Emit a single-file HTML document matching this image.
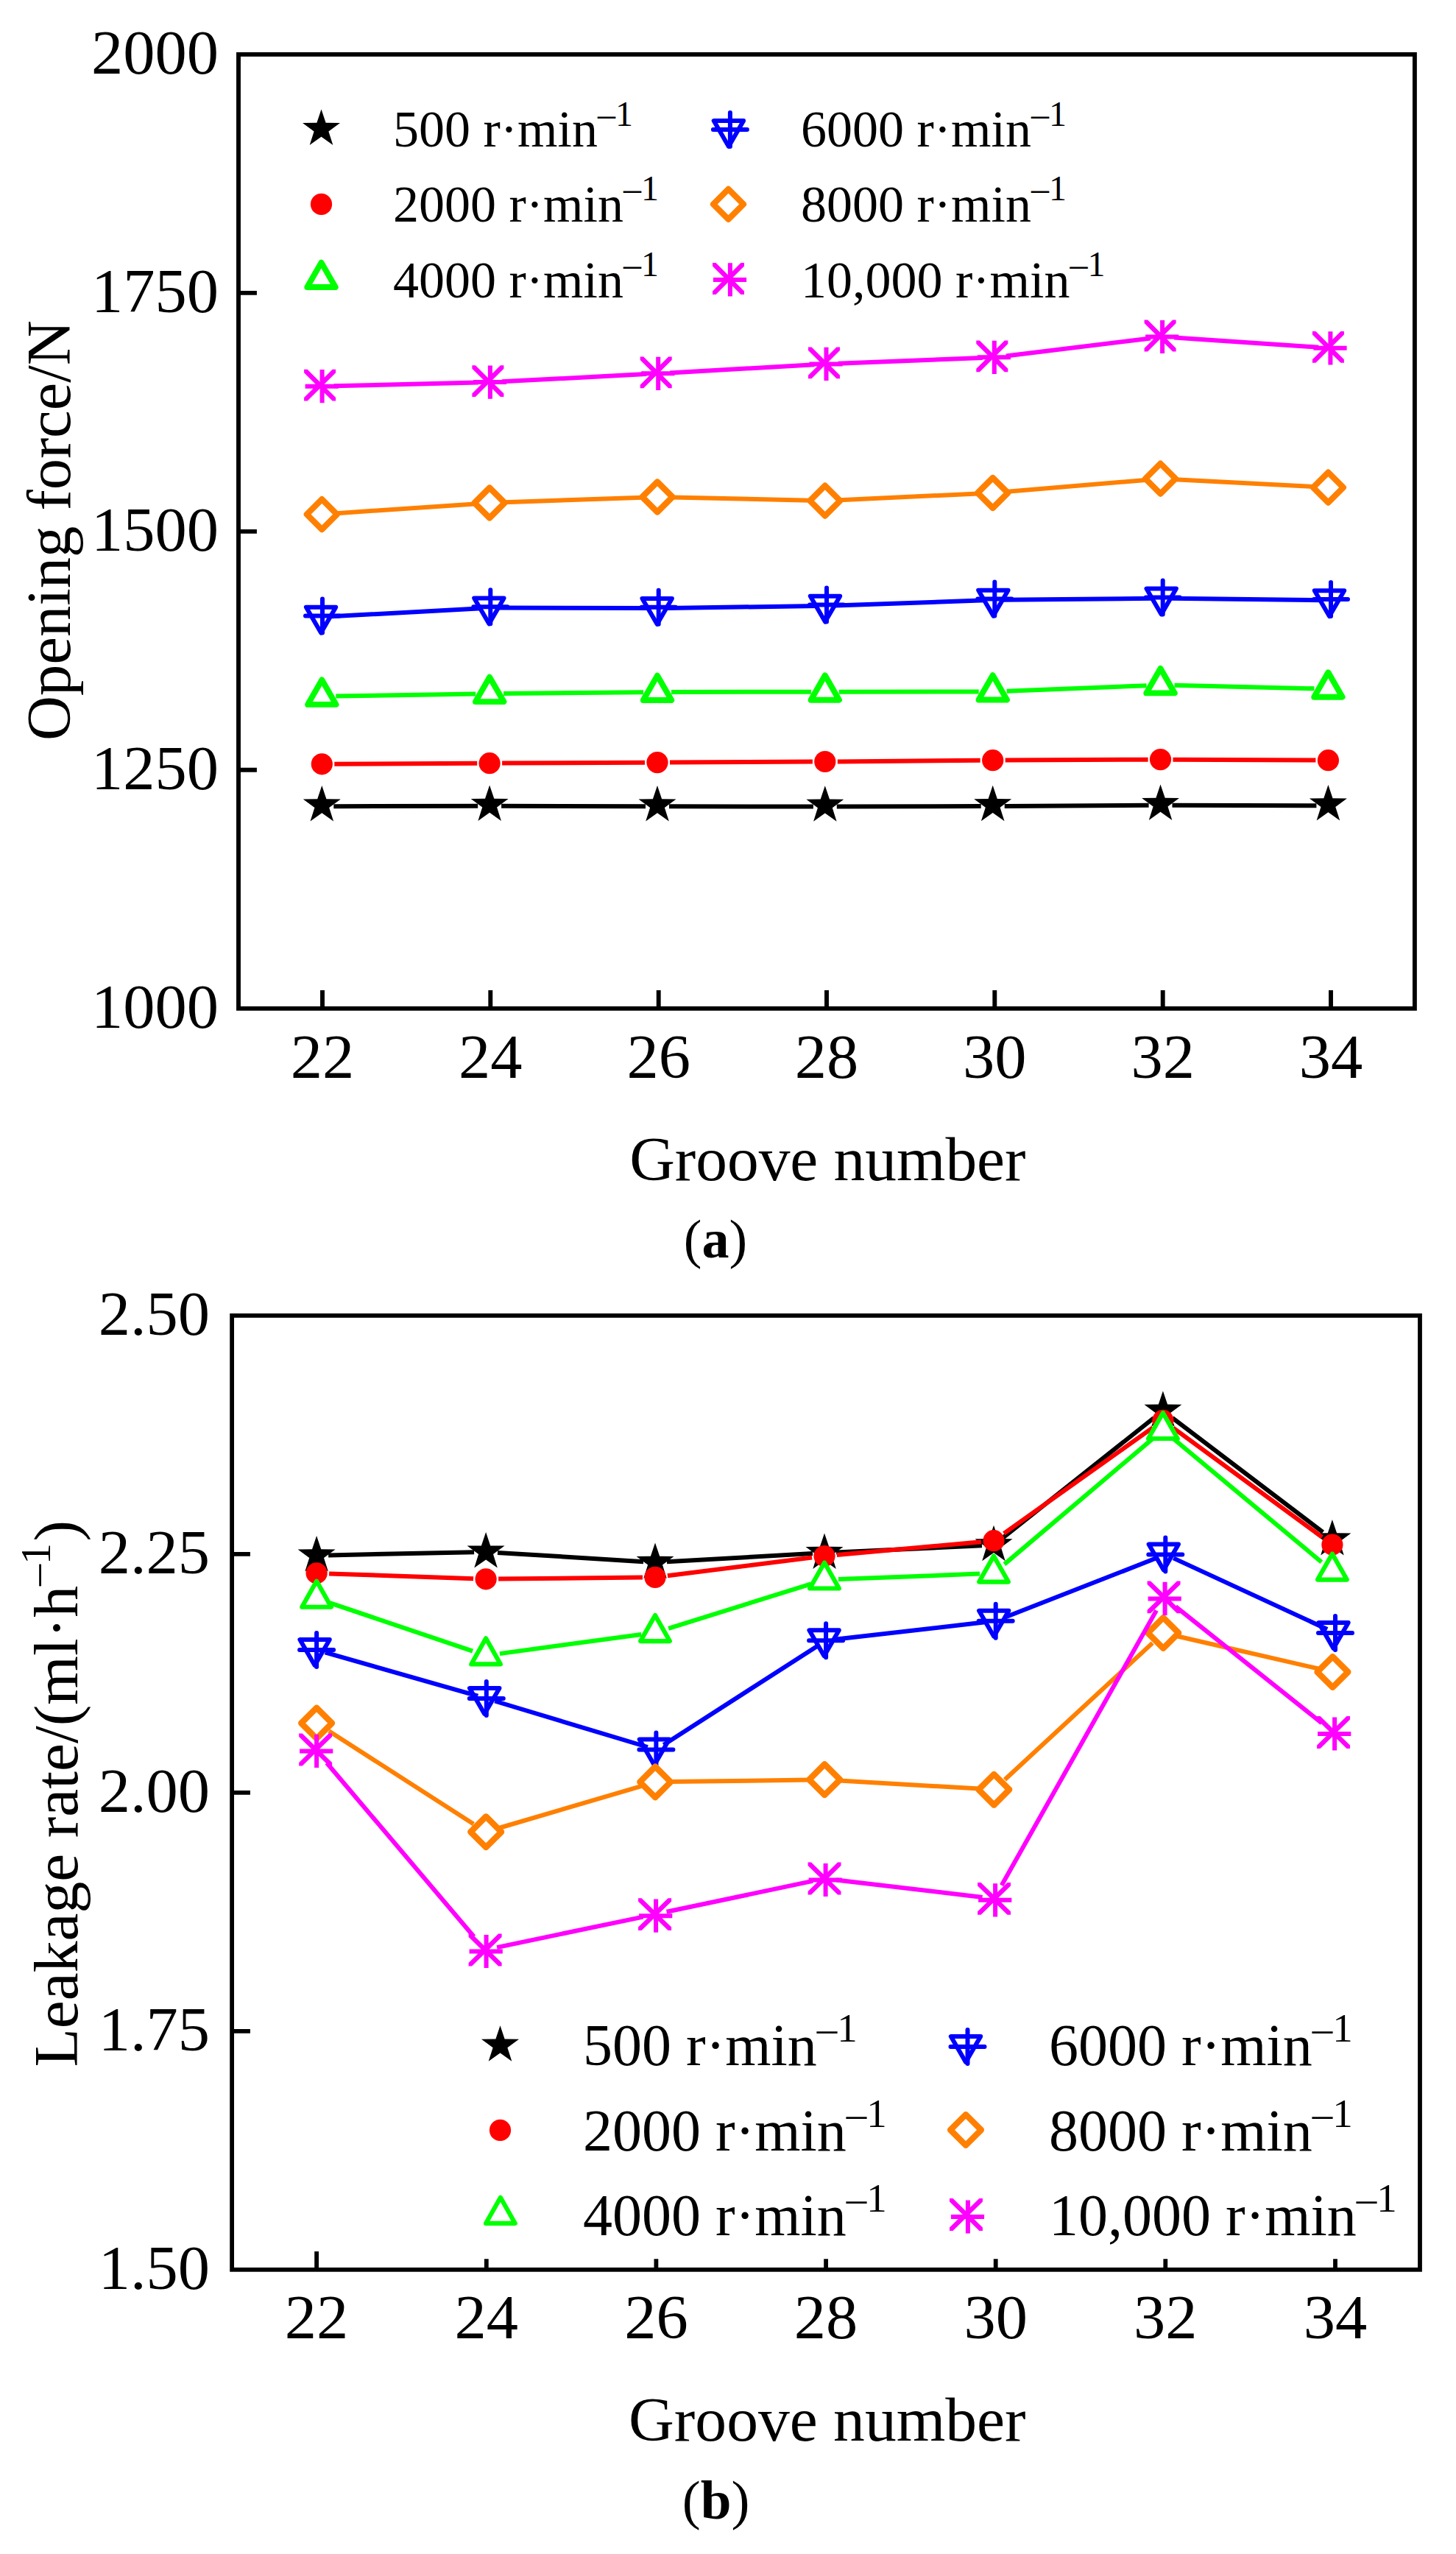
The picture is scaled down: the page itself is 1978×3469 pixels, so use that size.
<!DOCTYPE html>
<html lang="en"><head><meta charset="utf-8"><title>Opening force and leakage rate versus groove number</title>
<style>html,body{margin:0;padding:0;background:#fff}svg{display:block}text{font-family:'Liberation Serif', 'Times New Roman', serif;fill:#000}</style>
</head><body>
<svg width="1978" height="3469" viewBox="0 0 1978 3469">
<rect width="1978" height="3469" fill="#fff"/>
<g>
<path d="M324 397.9h24.9M324 721.9h24.9M324 1045.8h24.9M438 1369.8v-24.9M666.3 1369.8v-24.9M894.7 1369.8v-24.9M1123 1369.8v-24.9M1351.3 1369.8v-24.9M1579.7 1369.8v-24.9M1808 1369.8v-24.9" stroke="#000" stroke-width="5.9" fill="none"/>
<path d="M453.3 1095.2L649.2 1094.8M681.1 1094.8L877 1095.3M909 1095.3L1104.9 1095.5M1136.8 1095.5L1332.7 1095.1M1364.7 1095L1560.6 1093.8M1592.5 1093.7L1788.4 1094.2" fill="none" stroke="#000000" stroke-width="6"/>
<polygon points="437.3,1066.9 443.4,1085.2 462.8,1085.4 447.2,1096.9 453.1,1115.4 437.3,1104.2 421.5,1115.4 427.4,1096.9 411.8,1085.4 431.2,1085.2" fill="#000000"/>
<polygon points="665.1,1066.5 671.3,1084.8 690.6,1085 675.1,1096.5 680.9,1115 665.1,1103.8 649.4,1115 655.2,1096.5 639.7,1085 659,1084.8" fill="#000000"/>
<polygon points="893,1067 899.1,1085.3 918.5,1085.5 902.9,1097 908.8,1115.5 893,1104.3 877.2,1115.5 883.1,1097 867.5,1085.5 886.9,1085.3" fill="#000000"/>
<polygon points="1120.8,1067.2 1127,1085.5 1146.3,1085.7 1130.8,1097.2 1136.6,1115.7 1120.8,1104.5 1105.1,1115.7 1110.9,1097.2 1095.4,1085.7 1114.7,1085.5" fill="#000000"/>
<polygon points="1348.7,1066.8 1354.8,1085.1 1374.2,1085.3 1358.6,1096.8 1364.5,1115.3 1348.7,1104.1 1332.9,1115.3 1338.8,1096.8 1323.2,1085.3 1342.6,1085.1" fill="#000000"/>
<polygon points="1576.5,1065.4 1582.7,1083.7 1602,1083.9 1586.5,1095.4 1592.3,1113.9 1576.5,1102.7 1560.8,1113.9 1566.6,1095.4 1551.1,1083.9 1570.4,1083.7" fill="#000000"/>
<polygon points="1804.4,1065.9 1810.5,1084.2 1829.9,1084.4 1814.3,1095.9 1820.2,1114.4 1804.4,1103.2 1788.6,1114.4 1794.5,1095.9 1778.9,1084.4 1798.3,1084.2" fill="#000000"/>
<path d="M454.3 1037.7L648.2 1036.8M682.1 1036.6L876 1035.7M910 1035.5L1103.9 1034.6M1137.8 1034.4L1331.7 1032.8M1365.7 1032.6L1559.6 1031.7M1593.5 1031.7L1787.4 1032.6" fill="none" stroke="#ff0000" stroke-width="6"/>
<circle cx="437.3" cy="1037.8" r="14.6" fill="#ff0000"/>
<circle cx="665.1" cy="1036.7" r="14.6" fill="#ff0000"/>
<circle cx="893" cy="1035.6" r="14.6" fill="#ff0000"/>
<circle cx="1120.8" cy="1034.5" r="14.6" fill="#ff0000"/>
<circle cx="1348.7" cy="1032.7" r="14.6" fill="#ff0000"/>
<circle cx="1576.5" cy="1031.6" r="14.6" fill="#ff0000"/>
<circle cx="1804.4" cy="1032.7" r="14.6" fill="#ff0000"/>
<path d="M456.3 945.6L646.2 942.4M684.1 941.9L874 940.2M912 940L1101.9 939.7M1139.8 939.7L1329.7 939.5M1367.7 938.7L1557.6 931.2M1595.5 930.8L1785.4 935.3" fill="none" stroke="#00ff00" stroke-width="6"/>
<polygon points="437.3,923.5 456.5,956.9 418.1,956.9" fill="#fff" stroke="#00ff00" stroke-width="7.9" stroke-linejoin="round"/>
<polygon points="665.1,919.7 684.4,953.1 645.9,953.1" fill="#fff" stroke="#00ff00" stroke-width="7.9" stroke-linejoin="round"/>
<polygon points="893,917.6 912.2,951 873.8,951" fill="#fff" stroke="#00ff00" stroke-width="7.9" stroke-linejoin="round"/>
<polygon points="1120.8,917.3 1140,950.7 1101.6,950.7" fill="#fff" stroke="#00ff00" stroke-width="7.9" stroke-linejoin="round"/>
<polygon points="1348.7,917.1 1367.9,950.5 1329.5,950.5" fill="#fff" stroke="#00ff00" stroke-width="7.9" stroke-linejoin="round"/>
<polygon points="1576.5,908 1595.8,941.4 1557.3,941.4" fill="#fff" stroke="#00ff00" stroke-width="7.9" stroke-linejoin="round"/>
<polygon points="1804.4,913.3 1823.6,946.7 1785.2,946.7" fill="#fff" stroke="#00ff00" stroke-width="7.9" stroke-linejoin="round"/>
<path d="M450 837.3L654.3 826.2M678.3 825.6L882.7 826.1M906.7 825.9L1111 823.1M1135 822.5L1339.3 815.3M1363.3 814.8L1567.7 812.8M1591.6 812.8L1796 815.3" fill="none" stroke="#0000ff" stroke-width="6"/>
<polygon points="415.9,824.7 456.2,824.7 436.1,859.6" fill="none" stroke="#0000ff" stroke-width="6" stroke-linejoin="round"/><path d="M415 836.6H461M438 813.6V859.6" stroke="#0000ff" stroke-width="6" stroke-linecap="round" fill="none"/>
<polygon points="644.2,812.4 684.6,812.4 664.4,847.3" fill="none" stroke="#0000ff" stroke-width="6" stroke-linejoin="round"/><path d="M643.3 824.3H689.3M666.3 801.3V847.3" stroke="#0000ff" stroke-width="6" stroke-linecap="round" fill="none"/>
<polygon points="872.5,812.9 912.9,812.9 892.7,847.8" fill="none" stroke="#0000ff" stroke-width="6" stroke-linejoin="round"/><path d="M871.7 824.8H917.7M894.7 801.8V847.8" stroke="#0000ff" stroke-width="6" stroke-linecap="round" fill="none"/>
<polygon points="1100.8,809.7 1141.2,809.7 1121,844.6" fill="none" stroke="#0000ff" stroke-width="6" stroke-linejoin="round"/><path d="M1100 821.6H1146M1123 798.6V844.6" stroke="#0000ff" stroke-width="6" stroke-linecap="round" fill="none"/>
<polygon points="1329.2,801.7 1369.6,801.7 1349.4,836.6" fill="none" stroke="#0000ff" stroke-width="6" stroke-linejoin="round"/><path d="M1328.3 813.6H1374.3M1351.3 790.6V836.6" stroke="#0000ff" stroke-width="6" stroke-linecap="round" fill="none"/>
<polygon points="1557.5,799.5 1597.9,799.5 1577.7,834.4" fill="none" stroke="#0000ff" stroke-width="6" stroke-linejoin="round"/><path d="M1556.7 811.4H1602.7M1579.7 788.4V834.4" stroke="#0000ff" stroke-width="6" stroke-linecap="round" fill="none"/>
<polygon points="1785.8,802.2 1826.2,802.2 1806,837.1" fill="none" stroke="#0000ff" stroke-width="6" stroke-linejoin="round"/><path d="M1785 814.1H1831M1808 791.1V837.1" stroke="#0000ff" stroke-width="6" stroke-linecap="round" fill="none"/>
<path d="M457.3 697.2L645.2 684.4M685.1 682.3L873 675.7M913 675.5L1100.9 679.7M1140.8 679.3L1328.7 670.4M1368.6 667.8L1556.6 651.9M1596.5 651.3L1784.4 661.1" fill="none" stroke="#ff8000" stroke-width="6"/>
<polygon points="437.3,678.1 457.8,698.6 437.3,719.1 416.8,698.6" fill="#fff" stroke="#ff8000" stroke-width="8.2" stroke-linejoin="round"/>
<polygon points="665.1,662.5 685.6,683 665.1,703.5 644.6,683" fill="#fff" stroke="#ff8000" stroke-width="8.2" stroke-linejoin="round"/>
<polygon points="893,654.5 913.5,675 893,695.5 872.5,675" fill="#fff" stroke="#ff8000" stroke-width="8.2" stroke-linejoin="round"/>
<polygon points="1120.8,659.7 1141.3,680.2 1120.8,700.7 1100.3,680.2" fill="#fff" stroke="#ff8000" stroke-width="8.2" stroke-linejoin="round"/>
<polygon points="1348.7,649 1369.2,669.5 1348.7,690 1328.2,669.5" fill="#fff" stroke="#ff8000" stroke-width="8.2" stroke-linejoin="round"/>
<polygon points="1576.5,629.7 1597,650.2 1576.5,670.7 1556,650.2" fill="#fff" stroke="#ff8000" stroke-width="8.2" stroke-linejoin="round"/>
<polygon points="1804.4,641.7 1824.9,662.2 1804.4,682.7 1783.9,662.2" fill="#fff" stroke="#ff8000" stroke-width="8.2" stroke-linejoin="round"/>
<path d="M453.6 524.3L649.9 519.5M681.9 518.3L878.2 508.1M910.2 506.4L1106.5 495.3M1138.5 493.8L1334.8 485.9M1366.8 483.4L1563.1 459.4M1595.1 458.6L1791.4 471.7" fill="none" stroke="#ff00ff" stroke-width="6"/>
<path d="M414.6 521.7h45.2v6h-45.2zM434.6 502.1h6v45.2h-6zM413.1 501.8L417.6 501.8L456.1 540.1L456.1 544.6L451.6 544.6L413.1 506.3zM456.1 501.8L456.1 506.3L417.6 544.6L413.1 544.6L413.1 540.1L451.6 501.8z" fill="#ff00ff"/>
<path d="M642.9 516.1h45.2v6h-45.2zM662.9 496.5h6v45.2h-6zM641.4 496.2L645.9 496.2L684.4 534.5L684.4 539L679.9 539L641.4 500.7zM684.4 496.2L684.4 500.7L645.9 539L641.4 539L641.4 534.5L679.9 496.2z" fill="#ff00ff"/>
<path d="M871.2 504.3h45.2v6h-45.2zM891.2 484.7h6v45.2h-6zM869.7 484.4L874.2 484.4L912.7 522.7L912.7 527.2L908.2 527.2L869.7 488.9zM912.7 484.4L912.7 488.9L874.2 527.2L869.7 527.2L869.7 522.7L908.2 484.4z" fill="#ff00ff"/>
<path d="M1099.5 491.4h45.2v6h-45.2zM1119.5 471.8h6v45.2h-6zM1098 471.5L1102.5 471.5L1141 509.8L1141 514.3L1136.5 514.3L1098 476zM1141 471.5L1141 476L1102.5 514.3L1098 514.3L1098 509.8L1136.5 471.5z" fill="#ff00ff"/>
<path d="M1327.8 482.3h45.2v6h-45.2zM1347.8 462.7h6v45.2h-6zM1326.3 462.4L1330.8 462.4L1369.3 500.7L1369.3 505.2L1364.8 505.2L1326.3 466.9zM1369.3 462.4L1369.3 466.9L1330.8 505.2L1326.3 505.2L1326.3 500.7L1364.8 462.4z" fill="#ff00ff"/>
<path d="M1556.1 454.5h45.2v6h-45.2zM1576.1 434.9h6v45.2h-6zM1554.6 434.6L1559.1 434.6L1597.6 472.9L1597.6 477.4L1593.1 477.4L1554.6 439.1zM1597.6 434.6L1597.6 439.1L1559.1 477.4L1554.6 477.4L1554.6 472.9L1593.1 434.6z" fill="#ff00ff"/>
<path d="M1784.4 469.8h45.2v6h-45.2zM1804.4 450.2h6v45.2h-6zM1782.9 449.9L1787.4 449.9L1825.9 488.2L1825.9 492.7L1821.4 492.7L1782.9 454.4zM1825.9 449.9L1825.9 454.4L1787.4 492.7L1782.9 492.7L1782.9 488.2L1821.4 449.9z" fill="#ff00ff"/>
<rect x="324" y="73.9" width="1597.9" height="1295.9" fill="none" stroke="#000" stroke-width="5.9"/>
<text transform="translate(297 99.9) scale(1.030 1)" font-size="84" text-anchor="end">2000</text>
<text transform="translate(297 423.9) scale(1.030 1)" font-size="84" text-anchor="end">1750</text>
<text transform="translate(297 747.9) scale(1.030 1)" font-size="84" text-anchor="end">1500</text>
<text transform="translate(297 1071.8) scale(1.030 1)" font-size="84" text-anchor="end">1250</text>
<text transform="translate(297 1395.8) scale(1.030 1)" font-size="84" text-anchor="end">1000</text>
<text transform="translate(438 1463.5) scale(1.030 1)" font-size="84" text-anchor="middle">22</text>
<text transform="translate(666.3 1463.5) scale(1.030 1)" font-size="84" text-anchor="middle">24</text>
<text transform="translate(894.7 1463.5) scale(1.030 1)" font-size="84" text-anchor="middle">26</text>
<text transform="translate(1123 1463.5) scale(1.030 1)" font-size="84" text-anchor="middle">28</text>
<text transform="translate(1351.3 1463.5) scale(1.030 1)" font-size="84" text-anchor="middle">30</text>
<text transform="translate(1579.7 1463.5) scale(1.030 1)" font-size="84" text-anchor="middle">32</text>
<text transform="translate(1808 1463.5) scale(1.030 1)" font-size="84" text-anchor="middle">34</text>
</g>
<polygon points="436.5,148.5 442.6,166.8 462,167 446.4,178.5 452.3,197 436.5,185.8 420.7,197 426.6,178.5 411,167 430.4,166.8" fill="#000000"/>
<circle cx="436.5" cy="277.4" r="14.6" fill="#ff0000"/>
<polygon points="436.5,356.6 455.7,390 417.3,390" fill="#fff" stroke="#00ff00" stroke-width="7.9" stroke-linejoin="round"/>
<polygon points="969.7,164 1010.1,164 989.9,198.9" fill="none" stroke="#0000ff" stroke-width="6" stroke-linejoin="round"/><path d="M968.9 175.9H1014.9M991.9 152.9V198.9" stroke="#0000ff" stroke-width="6" stroke-linecap="round" fill="none"/>
<polygon points="989.5,256.9 1010,277.4 989.5,297.9 969,277.4" fill="#fff" stroke="#ff8000" stroke-width="8.2" stroke-linejoin="round"/>
<path d="M968.9 376.9h45.2v6h-45.2zM988.9 357.3h6v45.2h-6zM968 357.1L972.5 357.1L1011 395.4L1011 399.9L1006.5 399.9L968 361.6zM1011 357.1L1011 361.6L972.5 399.9L968 399.9L968 395.4L1006.5 357.1z" fill="#ff00ff"/>
<text x="534" y="199.3" font-size="70">500 r·min<tspan font-size="48" dy="-28.6">–1</tspan></text>
<text x="534" y="301" font-size="70">2000 r·min<tspan font-size="48" dy="-28.6">–1</tspan></text>
<text x="534" y="403.6" font-size="70">4000 r·min<tspan font-size="48" dy="-28.6">–1</tspan></text>
<text x="1088" y="199.3" font-size="70">6000 r·min<tspan font-size="48" dy="-28.6">–1</tspan></text>
<text x="1088" y="301" font-size="70">8000 r·min<tspan font-size="48" dy="-28.6">–1</tspan></text>
<text x="1088" y="403.6" font-size="70">10,000 r·min<tspan font-size="48" dy="-28.6">–1</tspan></text>
<text x="1124.3" y="1602.6" font-size="85.4" text-anchor="middle">Groove number</text>
<text x="972" y="1708" font-size="74" text-anchor="middle">(<tspan font-weight="bold">a</tspan>)</text>
<text transform="translate(94.5 720.6) rotate(-90)" font-size="84.6" text-anchor="middle">Opening force/N</text>
<g>
<path d="M315.1 2110.9h24.8M315.1 2434.8h24.8M315.1 2758.8h24.8M430.1 3082.8v-24.8M660.8 3082.8v-14.6M891.4 3082.8v-14.6M1122.1 3082.8v-14.6M1352.7 3082.8v-14.6M1583.3 3082.8v-14.6M1814 3082.8v-14.6" stroke="#000" stroke-width="5.8" fill="none"/>
<path d="M446.1 2112.4L644.1 2108.2M676 2108.9L874.1 2121.2M906 2121.3L1104 2110.1M1136 2108.5L1334 2099.3M1362.5 2088.7L1567.4 1926M1592.7 1925.8L1797.2 2081.1" fill="none" stroke="#000000" stroke-width="6"/>
<polygon points="430.1,2085.9 436.2,2104.2 455.6,2104.4 440,2115.9 445.9,2134.4 430.1,2123.2 414.3,2134.4 420.2,2115.9 404.6,2104.4 424,2104.2" fill="#000000"/>
<polygon points="660.1,2081.1 666.2,2099.4 685.6,2099.6 670,2111.1 675.8,2129.6 660.1,2118.4 644.3,2129.6 650.1,2111.1 634.6,2099.6 653.9,2099.4" fill="#000000"/>
<polygon points="890,2095.4 896.2,2113.7 915.5,2113.9 900,2125.4 905.8,2143.9 890,2132.7 874.3,2143.9 880.1,2125.4 864.6,2113.9 883.9,2113.7" fill="#000000"/>
<polygon points="1120,2082.4 1126.2,2100.7 1145.5,2100.9 1130,2112.4 1135.8,2130.9 1120,2119.7 1104.3,2130.9 1110.1,2112.4 1094.5,2100.9 1113.9,2100.7" fill="#000000"/>
<polygon points="1350,2071.8 1356.1,2090.1 1375.5,2090.3 1359.9,2101.8 1365.7,2120.3 1350,2109.1 1334.2,2120.3 1340,2101.8 1324.5,2090.3 1343.8,2090.1" fill="#000000"/>
<polygon points="1579.9,1889.3 1586.1,1907.6 1605.4,1907.8 1589.9,1919.3 1595.7,1937.8 1579.9,1926.6 1564.2,1937.8 1570,1919.3 1554.5,1907.8 1573.8,1907.6" fill="#000000"/>
<polygon points="1809.9,2064 1816.1,2082.3 1835.4,2082.5 1819.9,2094 1825.7,2112.5 1809.9,2101.3 1794.2,2112.5 1800,2094 1784.4,2082.5 1803.8,2082.3" fill="#000000"/>
<path d="M447.1 2137.4L643.1 2144.2M677.1 2144.6L873 2142.6M906.9 2140.3L1103.1 2115.6M1136.9 2112L1333 2094.2M1363.8 2082.9L1566.1 1939.1M1593.7 1939.4L1796.2 2087.9" fill="none" stroke="#ff0000" stroke-width="6"/>
<circle cx="430.1" cy="2136.8" r="14.6" fill="#ff0000"/>
<circle cx="660.1" cy="2144.8" r="14.6" fill="#ff0000"/>
<circle cx="890" cy="2142.4" r="14.6" fill="#ff0000"/>
<circle cx="1120" cy="2113.5" r="14.6" fill="#ff0000"/>
<circle cx="1350" cy="2092.7" r="14.6" fill="#ff0000"/>
<circle cx="1579.9" cy="1929.3" r="14.6" fill="#ff0000"/>
<circle cx="1809.9" cy="2098" r="14.6" fill="#ff0000"/>
<path d="M448.1 2177.1L642.1 2242.6M678.9 2246.1L871.2 2220M908.2 2211.8L1101.9 2151.4M1139 2145.1L1331 2137.6M1364.5 2124.6L1565.4 1954.6M1594.5 1954.5L1795.3 2121.7" fill="none" stroke="#00ff00" stroke-width="6"/>
<polygon points="430.1,2147.6 450,2182.7 410.2,2182.7" fill="#fff" stroke="#00ff00" stroke-width="6.1" stroke-linejoin="round"/>
<polygon points="660.1,2225.3 680,2260.4 640.2,2260.4" fill="#fff" stroke="#00ff00" stroke-width="6.1" stroke-linejoin="round"/>
<polygon points="890,2194 909.9,2229.1 870.1,2229.1" fill="#fff" stroke="#00ff00" stroke-width="6.1" stroke-linejoin="round"/>
<polygon points="1120,2122.4 1139.9,2157.5 1100.1,2157.5" fill="#fff" stroke="#00ff00" stroke-width="6.1" stroke-linejoin="round"/>
<polygon points="1350,2113.5 1369.9,2148.6 1330.1,2148.6" fill="#fff" stroke="#00ff00" stroke-width="6.1" stroke-linejoin="round"/>
<polygon points="1579.9,1918.9 1599.8,1954 1560,1954" fill="#fff" stroke="#00ff00" stroke-width="6.1" stroke-linejoin="round"/>
<polygon points="1809.9,2110.5 1829.8,2145.6 1790,2145.6" fill="#fff" stroke="#00ff00" stroke-width="6.1" stroke-linejoin="round"/>
<path d="M441.6 2244.3L649.2 2303.7M672.2 2310.5L879.9 2373M901.5 2370L1112 2234.7M1134 2226.8L1340.8 2203.1M1363.9 2197.3L1572.2 2115.8M1594.2 2116.4L1803.1 2213" fill="none" stroke="#0000ff" stroke-width="6"/>
<polygon points="407.4,2227.1 447.8,2227.1 427.6,2262" fill="none" stroke="#0000ff" stroke-width="6" stroke-linejoin="round"/><path d="M407.1 2241H453.1M430.1 2218V2264" stroke="#0000ff" stroke-width="6" stroke-linecap="round" fill="none"/>
<polygon points="638,2293.1 678.5,2293.1 658.2,2328" fill="none" stroke="#0000ff" stroke-width="6" stroke-linejoin="round"/><path d="M637.8 2307H683.8M660.8 2284V2330" stroke="#0000ff" stroke-width="6" stroke-linecap="round" fill="none"/>
<polygon points="868.7,2362.6 909.1,2362.6 888.9,2397.5" fill="none" stroke="#0000ff" stroke-width="6" stroke-linejoin="round"/><path d="M868.4 2376.5H914.4M891.4 2353.5V2399.5" stroke="#0000ff" stroke-width="6" stroke-linecap="round" fill="none"/>
<polygon points="1099.4,2214.3 1139.8,2214.3 1119.6,2249.2" fill="none" stroke="#0000ff" stroke-width="6" stroke-linejoin="round"/><path d="M1099.1 2228.2H1145.1M1122.1 2205.2V2251.2" stroke="#0000ff" stroke-width="6" stroke-linecap="round" fill="none"/>
<polygon points="1330,2187.8 1370.4,2187.8 1350.2,2222.7" fill="none" stroke="#0000ff" stroke-width="6" stroke-linejoin="round"/><path d="M1329.7 2201.7H1375.7M1352.7 2178.7V2224.7" stroke="#0000ff" stroke-width="6" stroke-linecap="round" fill="none"/>
<polygon points="1560.6,2097.5 1601,2097.5 1580.8,2132.4" fill="none" stroke="#0000ff" stroke-width="6" stroke-linejoin="round"/><path d="M1560.3 2111.4H1606.3M1583.3 2088.4V2134.4" stroke="#0000ff" stroke-width="6" stroke-linecap="round" fill="none"/>
<polygon points="1791.3,2204.1 1831.7,2204.1 1811.5,2239" fill="none" stroke="#0000ff" stroke-width="6" stroke-linejoin="round"/><path d="M1791 2218H1837M1814 2195V2241" stroke="#0000ff" stroke-width="6" stroke-linecap="round" fill="none"/>
<path d="M446.9 2351.3L643.3 2477.4M679.3 2482.5L871 2426.1M910.2 2420.1L1100.3 2417.5M1140.2 2418.4L1330.3 2429.6M1365 2417.2L1565.7 2231.6M1599.8 2222.5L1790.9 2266.5" fill="none" stroke="#ff8000" stroke-width="6"/>
<polygon points="430.1,2319.6 451,2340.5 430.1,2361.4 409.2,2340.5" fill="#fff" stroke="#ff8000" stroke-width="8.3" stroke-linejoin="round"/>
<polygon points="660.2,2467.3 681.1,2488.2 660.2,2509.1 639.3,2488.2" fill="#fff" stroke="#ff8000" stroke-width="8.3" stroke-linejoin="round"/>
<polygon points="890.2,2399.5 911.1,2420.4 890.2,2441.3 869.3,2420.4" fill="#fff" stroke="#ff8000" stroke-width="8.3" stroke-linejoin="round"/>
<polygon points="1120.2,2396.3 1141.2,2417.2 1120.2,2438.1 1099.3,2417.2" fill="#fff" stroke="#ff8000" stroke-width="8.3" stroke-linejoin="round"/>
<polygon points="1350.3,2409.9 1371.2,2430.8 1350.3,2451.7 1329.4,2430.8" fill="#fff" stroke="#ff8000" stroke-width="8.3" stroke-linejoin="round"/>
<polygon points="1580.3,2197.1 1601.2,2218 1580.3,2238.9 1559.4,2218" fill="#fff" stroke="#ff8000" stroke-width="8.3" stroke-linejoin="round"/>
<polygon points="1810.4,2250.1 1831.3,2271 1810.4,2291.9 1789.5,2271" fill="#fff" stroke="#ff8000" stroke-width="8.3" stroke-linejoin="round"/>
<path d="M443.9 2394.5L643.8 2630.5M675.1 2645.1L873.6 2603.6M905.6 2596.8L1104.1 2554.9M1136.1 2553.4L1334.6 2576.9M1360.7 2560.8L1571 2187.4M1597.1 2182.1L1795.6 2340.3" fill="none" stroke="#ff00ff" stroke-width="6"/>
<path d="M407.1 2375.5h45.2v6h-45.2zM427.1 2355.9h6v45.2h-6zM406.2 2354.6L410.7 2354.6L451.1 2393.9L451.1 2398.4L446.6 2398.4L406.2 2359.1zM451.1 2354.6L451.1 2359.1L410.7 2398.4L406.2 2398.4L406.2 2393.9L446.6 2354.6z" fill="#ff00ff"/>
<path d="M637.6 2647.5h45.2v6h-45.2zM657.6 2627.9h6v45.2h-6zM636.6 2626.6L641.1 2626.6L681.6 2665.9L681.6 2670.4L677.1 2670.4L636.6 2631.1zM681.6 2626.6L681.6 2631.1L641.1 2670.4L636.6 2670.4L636.6 2665.9L677.1 2626.6z" fill="#ff00ff"/>
<path d="M868.1 2599.2h45.2v6h-45.2zM888.1 2579.6h6v45.2h-6zM867.1 2578.2L871.6 2578.2L912.1 2617.6L912.1 2622.1L907.6 2622.1L867.1 2582.8zM912.1 2578.2L912.1 2582.8L871.6 2622.1L867.1 2622.1L867.1 2617.6L907.6 2578.2z" fill="#ff00ff"/>
<path d="M1098.6 2550.5h45.2v6h-45.2zM1118.6 2530.9h6v45.2h-6zM1097.6 2529.6L1102.1 2529.6L1142.5 2568.9L1142.5 2573.4L1138 2573.4L1097.6 2534.1zM1142.5 2529.6L1142.5 2534.1L1102.1 2573.4L1097.6 2573.4L1097.6 2568.9L1138 2529.6z" fill="#ff00ff"/>
<path d="M1329.1 2577.8h45.2v6h-45.2zM1349.1 2558.2h6v45.2h-6zM1328.1 2556.9L1332.6 2556.9L1373 2596.2L1373 2600.8L1368.5 2600.8L1328.1 2561.4zM1373 2556.9L1373 2561.4L1332.6 2600.8L1328.1 2600.8L1328.1 2596.2L1368.5 2556.9z" fill="#ff00ff"/>
<path d="M1559.6 2168.4h45.2v6h-45.2zM1579.6 2148.8h6v45.2h-6zM1558.6 2147.5L1563.1 2147.5L1603.5 2186.8L1603.5 2191.3L1599 2191.3L1558.6 2152zM1603.5 2147.5L1603.5 2152L1563.1 2191.3L1558.6 2191.3L1558.6 2186.8L1599 2147.5z" fill="#ff00ff"/>
<path d="M1790.1 2352h45.2v6h-45.2zM1810.1 2332.4h6v45.2h-6zM1789.1 2331.1L1793.6 2331.1L1834 2370.4L1834 2374.9L1829.5 2374.9L1789.1 2335.6zM1834 2331.1L1834 2335.6L1793.6 2374.9L1789.1 2374.9L1789.1 2370.4L1829.5 2331.1z" fill="#ff00ff"/>
<rect x="315.1" y="1786.9" width="1613.9" height="1295.9" fill="none" stroke="#000" stroke-width="5.8"/>
<text transform="translate(285.1 1812.9) scale(1.030 1)" font-size="84" text-anchor="end">2.50</text>
<text transform="translate(285.1 2136.9) scale(1.030 1)" font-size="84" text-anchor="end">2.25</text>
<text transform="translate(285.1 2460.8) scale(1.030 1)" font-size="84" text-anchor="end">2.00</text>
<text transform="translate(285.1 2784.8) scale(1.030 1)" font-size="84" text-anchor="end">1.75</text>
<text transform="translate(285.1 3108.8) scale(1.030 1)" font-size="84" text-anchor="end">1.50</text>
<text transform="translate(430.1 3175.5) scale(1.030 1)" font-size="84" text-anchor="middle">22</text>
<text transform="translate(660.8 3175.5) scale(1.030 1)" font-size="84" text-anchor="middle">24</text>
<text transform="translate(891.4 3175.5) scale(1.030 1)" font-size="84" text-anchor="middle">26</text>
<text transform="translate(1122.1 3175.5) scale(1.030 1)" font-size="84" text-anchor="middle">28</text>
<text transform="translate(1352.7 3175.5) scale(1.030 1)" font-size="84" text-anchor="middle">30</text>
<text transform="translate(1583.3 3175.5) scale(1.030 1)" font-size="84" text-anchor="middle">32</text>
<text transform="translate(1814 3175.5) scale(1.030 1)" font-size="84" text-anchor="middle">34</text>
</g>
<polygon points="679.5,2751.2 685.6,2769.5 705,2769.7 689.4,2781.2 695.3,2799.7 679.5,2788.5 663.7,2799.7 669.6,2781.2 654,2769.7 673.4,2769.5" fill="#000000"/>
<circle cx="679.5" cy="2893.4" r="14.6" fill="#ff0000"/>
<polygon points="679.9,2984.8 699.8,3019.9 660,3019.9" fill="#fff" stroke="#00ff00" stroke-width="6.1" stroke-linejoin="round"/>
<polygon points="1291.8,2766 1332.2,2766 1312,2800.9" fill="none" stroke="#0000ff" stroke-width="6" stroke-linejoin="round"/><path d="M1291.5 2779.9H1337.5M1314.5 2756.9V2802.9" stroke="#0000ff" stroke-width="6" stroke-linecap="round" fill="none"/>
<polygon points="1312,2872.1 1332.9,2893 1312,2913.9 1291.1,2893" fill="#fff" stroke="#ff8000" stroke-width="8.3" stroke-linejoin="round"/>
<path d="M1291.9 3008h45.2v6h-45.2zM1311.9 2988.4h6v45.2h-6zM1290 2986L1294.5 2986L1334.9 3025.4L1334.9 3029.9L1330.4 3029.9L1290 2990.5zM1334.9 2986L1334.9 2990.5L1294.5 3029.9L1290 3029.9L1290 3025.4L1330.4 2986z" fill="#ff00ff"/>
<text x="792" y="2805.4" font-size="80">500 r·min<tspan font-size="55" dy="-32.8">–1</tspan></text>
<text x="792" y="2921.3" font-size="80">2000 r·min<tspan font-size="55" dy="-32.8">–1</tspan></text>
<text x="792" y="3036.4" font-size="80">4000 r·min<tspan font-size="55" dy="-32.8">–1</tspan></text>
<text x="1425" y="2805.4" font-size="80">6000 r·min<tspan font-size="55" dy="-32.8">–1</tspan></text>
<text x="1425" y="2921.3" font-size="80">8000 r·min<tspan font-size="55" dy="-32.8">–1</tspan></text>
<text x="1425" y="3036.4" font-size="80">10,000 r·min<tspan font-size="55" dy="-32.8">–1</tspan></text>
<text x="1123.8" y="3315.2" font-size="85.6" text-anchor="middle">Groove number</text>
<text x="972.7" y="3421.4" font-size="75" text-anchor="middle">(<tspan font-weight="bold">b</tspan>)</text>
<text transform="translate(104.8 2436.2) rotate(-90)" font-size="85.6" text-anchor="middle">Leakage rate/(ml·h<tspan font-size="58" dy="-36.6">–1</tspan><tspan dy="36.6" dx="2.6">)</tspan></text>
</svg>
</body></html>
